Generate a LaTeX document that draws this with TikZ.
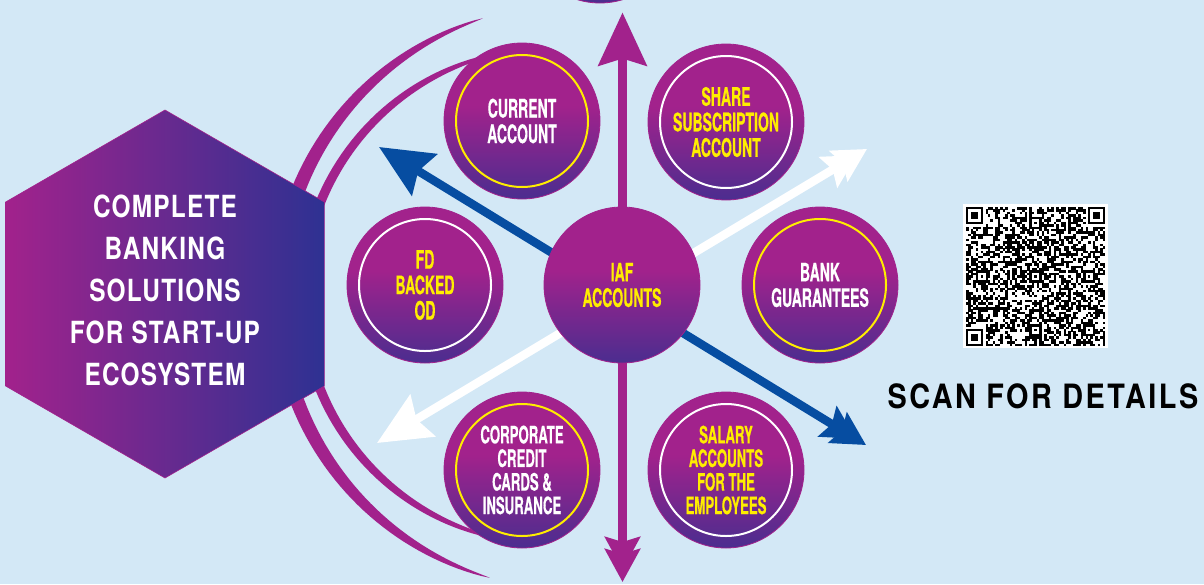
\documentclass[tikz,border=0pt]{standalone}
\usepackage{fontspec}
\setmainfont{TeX Gyre Heros}
\newfontfamily\circfont[FakeStretch=0.55,FakeBold=0.4]{TeX Gyre Heros}
\newfontfamily\hexfont[FakeStretch=0.8,LetterSpace=4]{TeX Gyre Heros}
\newfontfamily\scanfont[FakeStretch=0.86,LetterSpace=7.5]{TeX Gyre Heros}
\usetikzlibrary{arrows.meta}
\definecolor{bgblue}{HTML}{D3E8F6}
\definecolor{orbmag}{HTML}{A2228C}
\definecolor{orbpurp}{HTML}{4B2D8F}
\definecolor{hexblue}{HTML}{2E3192}
\definecolor{arrowblue}{HTML}{064DA1}
\definecolor{ringyellow}{HTML}{FFED00}
\pgfdeclareverticalshading{orbshade}{100bp}{color(0bp)=(orbpurp); color(25bp)=(orbpurp); color(55bp)=(orbmag); color(100bp)=(orbmag)}
\tikzset{
  startbig/.tip={Stealth[length=53pt,width=48pt,inset=7pt]},
  enddbl/.tip={Stealth[length=33pt,width=35pt,inset=5pt,sep=-21pt]Stealth[length=33pt,width=35pt,inset=5pt]},
  orb/.style={circle, minimum size=156pt, inner sep=0pt, shading=orbshade,
    draw=orbmag, line width=0.8pt, align=center,
    font=\circfont\bfseries\fontsize{25.5}{25.5}\selectfont},
  smalltext/.style={font=\circfont\bfseries\fontsize{24}{23.6}\selectfont},
  yring/.style={path picture={\draw[ringyellow,line width=2pt] (path picture bounding box.center) circle[radius=66pt];}},
  wring/.style={path picture={\draw[white,line width=2pt] (path picture bounding box.center) circle[radius=66pt];}},
  ytext/.style={text=ringyellow},
  wtext/.style={text=white},
  magarrow/.style={draw=orbmag, line width=8.5pt, startbig-enddbl},
  bluearrow/.style={draw=arrowblue, line width=8.5pt, startbig-enddbl},
  whitearrow/.style={draw=white, line width=8.5pt, startbig-enddbl},
  hexshape/.style={left color=orbmag, right color=hexblue, draw=orbmag, line width=0.6pt},
  hextext/.style={text=white, align=center, font=\hexfont\bfseries\fontsize{30.5}{42}\selectfont},
  scantext/.style={text=black, font=\scanfont\bfseries\fontsize{33.5}{34}\selectfont},
  declare function={wo(\t)=7.5*pow(abs(sin((\t-106)*1.22783))+0.001,0.7);
                    wi(\t)=5*pow(abs(sin((\t-102)*1.15385))+0.001,0.5);}
}
\begin{document}
\begin{tikzpicture}[x=1pt,y=-1pt]
\useasboundingbox (0,0) rectangle (1204,584);
\clip (0,0) rectangle (1204,584);
\fill[bgblue] (0,0) rectangle (1204,584);

% QR code
\fill[white] (963,204) rectangle (1108,348);
\begin{scope}[shift={(966,207)}]
  \pgfmathsetseed{2024}
  \foreach \i in {0,...,56}{
    \foreach \j in {0,...,56}{
      \pgfmathtruncatemacro\on{(rnd<0.5)&&!((\i<8&&\j<8)||(\i>48&&\j<8)||(\i<8&&\j>48))}
      \ifnum\on=1 \fill[black] ({\i*2.44},{\j*2.44}) rectangle ++(2.5,2.5);\fi
    }}
  \foreach \fx/\fy in {0/0,50/0,0/50}{
    \fill[black] ({\fx*2.44},{\fy*2.44}) rectangle ++(17.08,17.08);
    \fill[white] ({(\fx+1)*2.44},{(\fy+1)*2.44}) rectangle ++(12.2,12.2);
    \fill[black] ({(\fx+2)*2.44},{(\fy+2)*2.44}) rectangle ++(7.32,7.32);
  }
  \foreach \ax/\ay in {6/28,28/6,28/28,28/50,50/28,50/50}{
    \fill[black] ({(\ax-2)*2.44},{(\ay-2)*2.44}) rectangle ++(12.2,12.2);
    \fill[white] ({(\ax-1)*2.44},{(\ay-1)*2.44}) rectangle ++(7.32,7.32);
    \fill[black] ({\ax*2.44},{\ay*2.44}) rectangle ++(2.44,2.44);
  }
\end{scope}
\node[scantext] (scan) at (1043,396) {SCAN FOR DETAILS};

% arcs
\fill[orbmag] plot[domain=106:252.6,samples=90,variable=\t] ({570+(292+wo(\t))*cos(\t)},{297+(292+wo(\t))*sin(\t)})
  -- plot[domain=252.6:106,samples=90,variable=\t] ({570+(292-wo(\t))*cos(\t)},{297+(292-wo(\t))*sin(\t)}) -- cycle;
\fill[orbmag] plot[domain=102:258,samples=90,variable=\t] ({550+(248+wi(\t))*cos(\t)},{296+(248+wi(\t))*sin(\t)})
  -- plot[domain=258:102,samples=90,variable=\t] ({550+(248-wi(\t))*cos(\t)},{296+(248-wi(\t))*sin(\t)}) -- cycle;

% arrows
\coordinate (vt) at (622.5,12.5);
\coordinate (vb) at (622.5,582);
\coordinate (bt) at (379,147);
\coordinate (bb) at (866,445);
\coordinate (wt) at (377,443);
\coordinate (wb) at (867,149);
\draw[whitearrow] (wt) -- (wb);
\draw[bluearrow] (bt) -- (bb);
\draw[magarrow] (vt) -- (vb);

% circles
\node[orb] (topc) at (600,-75) {};
\node[orb,yring,wtext] (cur) at (522,121) {CURRENT\\ACCOUNT};
\node[orb,wring,ytext] (share) at (726,122) {SHARE\\SUBSCRIPTION\\ACCOUNT};
\node[orb,wring,ytext] (fd) at (425,285) {FD\\BACKED\\OD};
\node[orb,ytext] (iaf) at (622,285) {IAF\\ACCOUNTS};
\node[orb,yring,wtext] (bank) at (820,285) {BANK\\GUARANTEES};
\node[orb,yring,wtext,smalltext] (corp) at (522,470) {CORPORATE\\CREDIT\\CARDS \&\\INSURANCE};
\node[orb,wring,ytext,smalltext] (sal) at (726,470) {SALARY\\ACCOUNTS\\FOR THE\\EMPLOYEES};

% hexagon
\path[hexshape] (165,110) -- (324.35,202) -- (324.35,386) -- (165,478) -- (5.65,386) -- (5.65,202) -- cycle;
\node[hextext] (hex) at (165,290) {COMPLETE\\BANKING\\SOLUTIONS\\FOR START-UP\\ECOSYSTEM};
\end{tikzpicture}
\end{document}
